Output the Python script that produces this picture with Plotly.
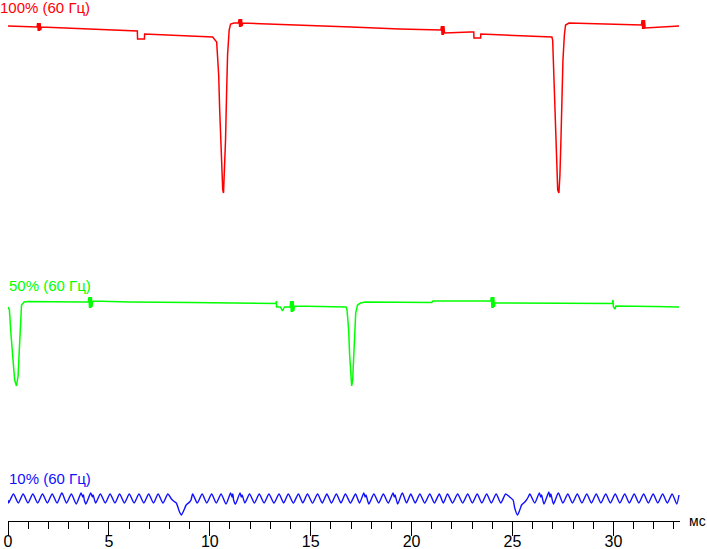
import plotly.graph_objects as go

# ---- data (time in ms, level in arbitrary vertical units) ----
red_t = [0.00, 0.80, 1.44, 1.47, 1.50, 1.53, 1.56, 1.59, 1.62, 1.65, 3.00, 5.00, 6.38, 6.41, 6.42, 6.76, 6.77,
         8.00, 10.14, 10.34, 10.44, 10.49, 10.54, 10.59, 10.64, 10.68, 10.73, 10.78, 10.83, 10.88,
         10.96, 11.03, 11.20, 11.42, 11.45, 11.48, 11.51, 11.54, 11.57, 11.60, 11.63, 12.40, 14.50, 17.00, 19.40,
         21.42, 21.45, 21.48, 21.51, 21.54, 21.57, 21.60, 21.63, 22.90, 23.08, 23.09, 23.42, 23.43, 25.00,
         26.95, 26.99, 27.04, 27.09, 27.14, 27.19, 27.24, 27.30, 27.35, 27.40, 27.45, 27.50, 27.57,
         27.63, 27.80, 29.50, 31.36, 31.39, 31.42, 31.45, 31.48, 31.51, 31.54, 31.57, 33.25]
red_v = [495, 494.5, 494, 498, 490, 498, 490, 498, 491, 494, 493, 491, 490, 490, 482, 482, 487,
         486, 484, 479, 446, 411, 381, 351, 331, 328, 349, 381, 426, 466,
         491, 497, 498, 498, 502, 494, 502, 494, 502, 495, 498, 497.5, 496, 494, 492,
         491, 491, 495, 486, 495, 486, 495, 488, 489, 489, 483, 483, 487, 485.5,
         484, 481, 451, 411, 376, 346, 331, 328, 346, 381, 421, 461, 486,
         496, 498, 497, 496, 496, 501, 492, 501, 492, 501, 493, 495]

green_t = [0.00, 0.07, 0.15, 0.25, 0.33, 0.42, 0.50, 0.56, 0.62, 0.67, 0.80, 1.00, 3.50,
           3.98, 4.01, 4.04, 4.07, 4.10, 4.13, 4.16, 4.19, 6.00, 9.00, 13.28, 13.30, 13.31, 13.50, 13.60,
           13.70, 13.98, 14.01, 14.04, 14.07, 14.10, 14.13, 14.16, 14.19, 15.00, 16.75, 16.80, 16.88, 16.93,
           16.98, 17.03, 17.08, 17.13, 17.18, 17.23, 17.32, 17.47, 17.70, 21.00, 21.05,
           23.92, 23.95, 23.98, 24.01, 24.04, 24.07, 24.10, 24.13, 26.00, 29.95, 29.98, 30.00, 30.08, 30.12,
           32.00, 33.25]
green_v = [214, 211, 186, 159, 141, 135, 145, 171, 201, 216, 219, 219.5, 219,
           219, 224, 213, 224, 213, 224, 214, 220, 219, 218.5, 217.5, 220, 214, 214, 210,
           214, 214, 220, 209, 220, 209, 220, 210, 215, 214.5, 214, 211, 191, 166,
           146, 135, 141, 163, 189, 208, 216, 218, 219, 218.5, 220,
           220, 224, 213, 224, 213, 224, 214, 218, 218, 217.5, 221, 214, 212, 215,
           214.5, 214]

blue_t = [0.00, 0.03, 0.27, 0.51, 0.75, 0.99, 1.23, 1.47, 1.71, 1.95, 2.19, 2.43, 2.67, 2.90,
          3.14, 3.38, 3.62, 3.70, 3.74, 3.78, 3.86, 4.10, 4.18, 4.22, 4.34, 4.58, 4.82, 5.06,
          5.30, 5.53, 5.77, 6.01, 6.25, 6.49, 6.73, 6.97, 7.21, 7.44, 7.68, 7.92, 8.10, 8.20,
          8.34, 8.50, 8.59, 8.70, 8.83, 9.00, 9.07, 9.15, 9.38, 9.62, 9.85, 10.09, 10.32,
          10.56, 10.80, 11.03, 11.10, 11.14, 11.18, 11.27, 11.50, 11.56, 11.60, 11.74, 11.97,
          12.21, 12.45, 12.69, 12.93, 13.18, 13.43, 13.66, 13.89, 14.14, 14.39, 14.61, 14.84,
          15.09, 15.34, 15.57, 15.80, 16.03, 16.27, 16.50, 16.72, 16.97, 17.22, 17.42, 17.63,
          17.70, 17.74, 17.88, 18.13, 18.37, 18.60, 18.84, 19.08, 19.14, 19.18, 19.31, 19.54,
          19.75, 19.96, 20.18, 20.41, 20.65, 20.90, 21.13, 21.37, 21.57, 21.78, 22.03, 22.28,
          22.53, 22.78, 23.01, 23.25, 23.48, 23.72, 23.95, 24.19, 24.42, 24.66, 24.86, 25.03,
          25.11, 25.25, 25.36, 25.45, 25.61, 25.69, 25.78, 25.86, 26.10, 26.33, 26.40, 26.44,
          26.56, 26.80, 26.86, 26.90, 27.03, 27.27, 27.50, 27.74, 27.97, 28.21, 28.44, 28.68,
          28.91, 29.15, 29.38, 29.62, 29.85, 30.09, 30.32, 30.56, 30.79, 31.03, 31.26, 31.50,
          31.73, 31.97, 32.20, 32.44, 32.67, 32.91, 33.14, 33.25]
blue_v = [21, 18, 27, 18, 27, 18, 27, 18, 27, 18, 27, 18, 28, 18,
          27, 17, 28, 24, 26, 21, 17, 28, 24, 26, 18, 27, 18, 27,
          18, 27, 18, 27, 18, 27, 18, 27, 18, 27, 18, 27, 22, 20,
          18, 9, 6, 10, 16, 19, 21, 27, 18, 27, 18, 27, 18,
          27, 17, 28, 24, 27, 21, 17, 28, 24, 26, 18, 27,
          18, 27, 18, 27, 18, 27, 18, 27, 18, 27, 18, 27,
          18, 27, 18, 27, 18, 27, 18, 27, 18, 27, 18, 28,
          24, 26, 17, 27, 18, 27, 18, 28, 24, 26, 17, 28,
          18, 27, 18, 27, 18, 27, 18, 27, 18, 27, 18, 27,
          18, 27, 18, 27, 18, 27, 18, 27, 18, 27, 24, 21,
          13, 6, 11, 16, 19, 21, 24, 27, 18, 28, 24, 26,
          17, 29, 24, 27, 17, 28, 18, 27, 18, 27, 18, 27,
          18, 27, 18, 27, 18, 27, 18, 27, 18, 27, 18, 27,
          18, 27, 18, 27, 18, 27, 17, 26]

x_ticks = [0, 5, 10, 15, 20, 25, 30]
series_labels = ["100% (60 Гц)", "50% (60 Гц)", "10% (60 Гц)"]
unit_label = "мс"

RED = "#ff0000"
GREEN = "#00ff00"
BLUE = "#1010ff"
FONT = "Liberation Sans, Arial, sans-serif"

fig = go.Figure()
fig.add_trace(go.Scatter(x=red_t, y=red_v, mode="lines", line=dict(color=RED, width=1.5),
                         hoverinfo="skip", showlegend=False))
fig.add_trace(go.Scatter(x=green_t, y=green_v, mode="lines", line=dict(color=GREEN, width=1.5),
                         hoverinfo="skip", showlegend=False))
fig.add_trace(go.Scatter(x=blue_t, y=blue_v, mode="lines",
                         line=dict(color=BLUE, width=1.4, shape="spline", smoothing=0.6),
                         hoverinfo="skip", showlegend=False))

fig.update_layout(
    width=707, height=549,
    margin=dict(l=8, r=27, t=0, b=28, pad=0, autoexpand=False),
    paper_bgcolor="white", plot_bgcolor="white",
    font=dict(family=FONT, size=15, color="black"),
    xaxis=dict(range=[0, 33.3], tickvals=x_ticks, ticktext=[str(v) for v in x_ticks],
               automargin=False, ticklabelstandoff=-8,
               ticks="outside", ticklen=14, tickwidth=1, tickcolor="black",
               showline=True, linecolor="black", linewidth=1, showgrid=False, zeroline=False,
               tickfont=dict(family=FONT, size=16, color="black"),
               minor=dict(dtick=1, tick0=0, ticks="outside", ticklen=7, tickwidth=1,
                          tickcolor="black", showgrid=False)),
    yaxis=dict(range=[0, 521], visible=False, showgrid=False, zeroline=False, automargin=False),
    annotations=[
        dict(text=series_labels[0], xref="paper", yref="paper", x=-0.013, y=1.003,
             xanchor="left", yanchor="top", showarrow=False, borderpad=0,
             font=dict(family=FONT, size=15, color=RED)),
        dict(text=series_labels[1], xref="paper", yref="y", x=-0.002, y=236,
             xanchor="left", yanchor="middle", showarrow=False,
             font=dict(family=FONT, size=15, color=GREEN)),
        dict(text=series_labels[2], xref="paper", yref="y", x=-0.001, y=43,
             xanchor="left", yanchor="middle", showarrow=False,
             font=dict(family=FONT, size=15, color=BLUE)),
        dict(text=unit_label, xref="paper", yref="paper", x=1.010, y=0,
             xanchor="left", yanchor="middle", showarrow=False,
             font=dict(family=FONT, size=14, color="black")),
    ],
)

fig.write_html("out.html", config={"displayModeBar": False},
               post_script="document.body.style.margin='0';document.body.style.overflow='hidden';")
